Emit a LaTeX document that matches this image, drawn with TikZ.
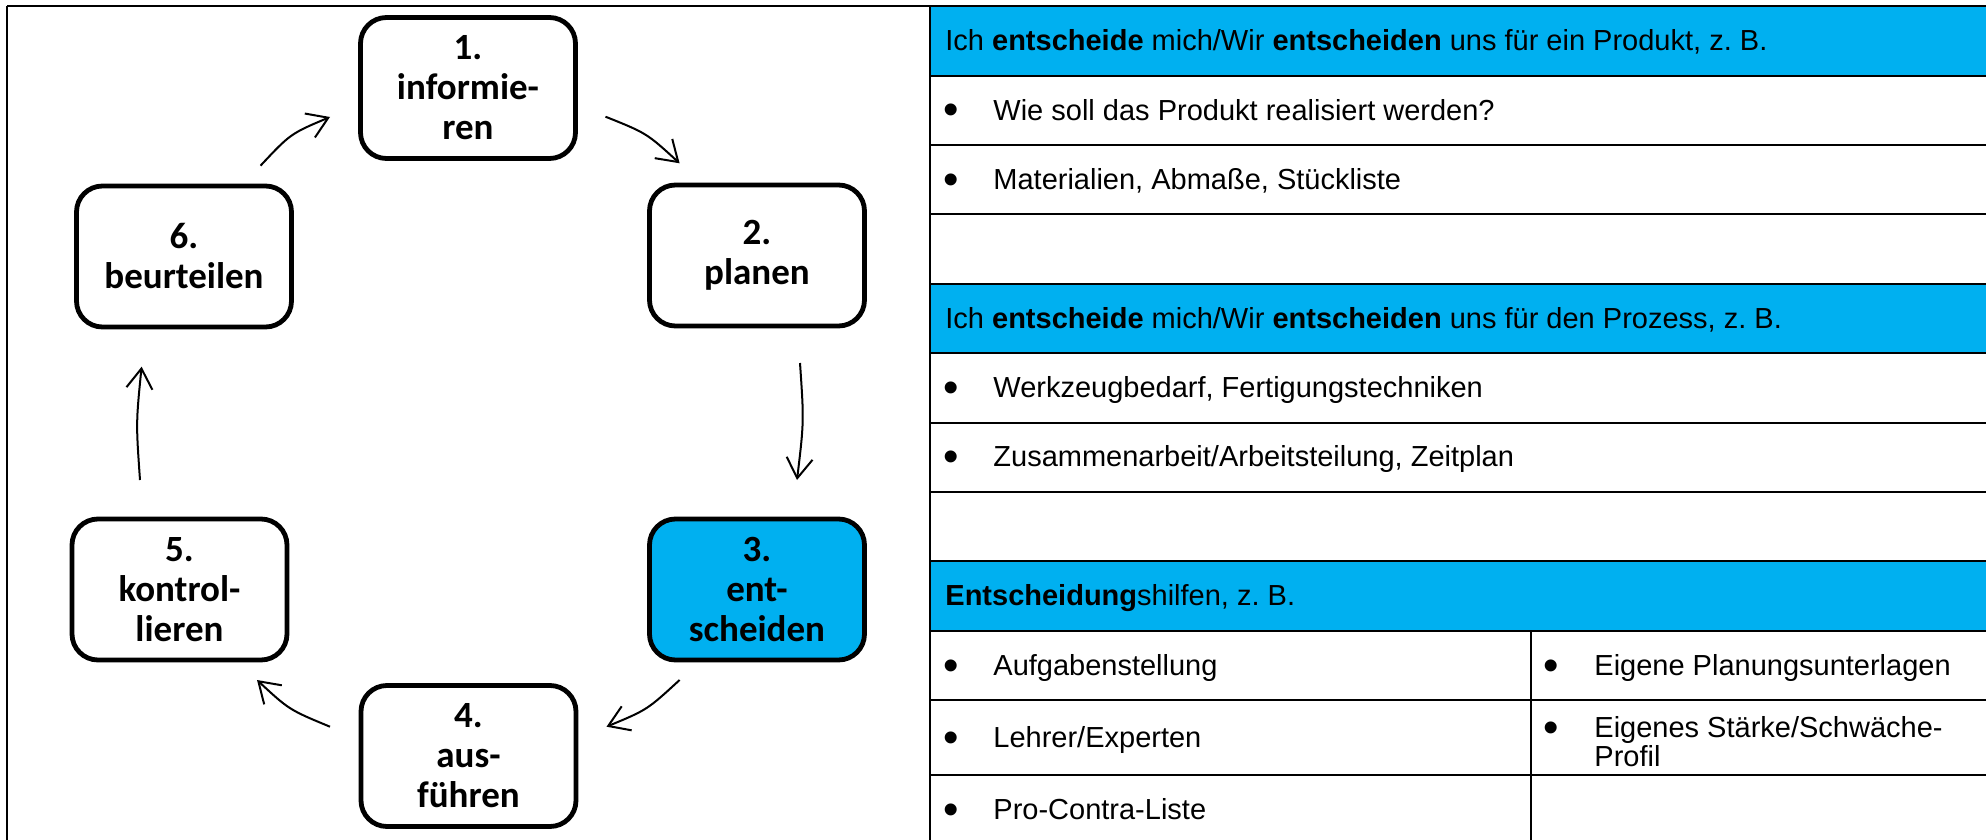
\documentclass[tikz,border=0pt]{standalone}
\usepackage{fontspec}
\setmainfont{Liberation Sans}
\newfontfamily\boxfont{Carlito}
\usetikzlibrary{arrows.meta}
\definecolor{wblue}{HTML}{00B0F0}
\begin{document}
\begin{tikzpicture}[x=0.5pt,y=-0.5pt,
  stepbox/.style={draw, line width=2.4pt, rounded corners=13pt, minimum width=107.5pt, minimum height=70.5pt, align=center, font=\boxfont\bfseries\fontsize{18.5}{20}\selectfont, inner sep=0pt, fill=white},
  cyc/.style={line width=1pt, -{Straight Barb[length=10pt,width=13pt,line width=1pt]}},
  gridline/.style={line width=1.2pt},
  tx/.style={anchor=base west, inner sep=0pt, font=\fontsize{14.5}{14.5}\selectfont},
  bul/.style={anchor=base, inner sep=0pt, yshift=-2.5pt, font=\fontsize{22}{22}\selectfont}
]
\useasboundingbox (0,0) rectangle (1986,840);
% table fills
\fill[wblue] (930,6) rectangle (1986,76);
\fill[wblue] (930,284) rectangle (1986,353);
\fill[wblue] (930,561) rectangle (1986,631);
% table lines
\draw[gridline] (7,6) -- (1986,6);
\draw[gridline] (7,6) -- (7,840);
\draw[gridline] (930,6) -- (930,840);
\foreach \yy in {76,145,214,284,353,423,492,561,631,700,775}
  \draw[gridline] (930,\yy) -- (1986,\yy);
\draw[gridline] (1531,631) -- (1531,840);

% cycle boxes
\node[stepbox] (b1) at (468,88) {1.\\informie-\\ren};
\node[stepbox] (b2) at (757,255.5) {2.\\planen};
\node[stepbox, fill=wblue] (b3) at (757,589.5) {3.\\ent-\\scheiden};
\node[stepbox] (b4) at (468.5,756) {4.\\aus-\\führen};
\node[stepbox] (b5) at (179.5,589.5) {5.\\kontrol-\\lieren};
\node[stepbox] (b6) at (184,256.5) {6.\\beurteilen};

% arrows
\coordinate (a61s) at (260.5,165.7); \coordinate (a61c) at (290.5,133.7); \coordinate (a61e) at (330,117);
\coordinate (a12s) at (605.5,116.7); \coordinate (a12c) at (646.7,133.2); \coordinate (a12e) at (679.6,163.3);
\coordinate (a23s) at (800,363); \coordinate (a23c) at (804,421.5); \coordinate (a23e) at (797,480);
\coordinate (a34s) at (679.6,680); \coordinate (a34c) at (647.2,709.8); \coordinate (a34e) at (606.5,726.7);
\coordinate (a45s) at (330,726.7); \coordinate (a45c) at (289.2,709.8); \coordinate (a45e) at (257,680);
\coordinate (a56s) at (140,480); \coordinate (a56c) at (136,423); \coordinate (a56e) at (141.6,366.7);
\draw[cyc] (a61s) .. controls (a61c) .. (a61e);
\draw[cyc] (a12s) .. controls (a12c) .. (a12e);
\draw[cyc] (a23s) .. controls (a23c) .. (a23e);
\draw[cyc] (a34s) .. controls (a34c) .. (a34e);
\draw[cyc] (a45s) .. controls (a45c) .. (a45e);
\draw[cyc] (a56s) .. controls (a56c) .. (a56e);

% table texts
\node[tx] (h1) at (945,50.5) {Ich \textbf{entscheide} mich/Wir \textbf{entscheiden} uns für ein Produkt, z.~B.};
\node[bul] (p1b) at (951,120) {•};
\node[tx] (p1) at (993,120) {Wie soll das Produkt realisiert werden?};
\node[bul] (p2b) at (951,189) {•};
\node[tx] (p2) at (993,189) {Materialien, Abmaße, Stückliste};
\node[tx] (h2) at (945,328) {Ich \textbf{entscheide} mich/Wir \textbf{entscheiden} uns für den Prozess, z.~B.};
\node[bul] (q1b) at (951,397.5) {•};
\node[tx] (q1) at (993,397.5) {Werkzeugbedarf, Fertigungstechniken};
\node[bul] (q2b) at (951,466.5) {•};
\node[tx] (q2) at (993,466.5) {Zusammenarbeit/Arbeitsteilung, Zeitplan};
\node[tx] (h3) at (945,605.5) {\textbf{Entscheidung}shilfen, z.~B.};
\node[bul] (r1b) at (951,675) {•};
\node[tx] (r1) at (993,675) {Aufgabenstellung};
\node[bul] (r2b) at (951,747.5) {•};
\node[tx] (r2) at (993,747.5) {Lehrer/Experten};
\node[bul] (r3b) at (951,819.5) {•};
\node[tx] (r3) at (993,819.5) {Pro-Contra-Liste};
\node[bul] (s1b) at (1551,675) {•};
\node[tx] (s1) at (1594,675) {Eigene Planungsunterlagen};
\node[bul] (s2b) at (1551,737) {•};
\node[tx] (s2) at (1594,737) {Eigenes Stärke/Schwäche-};
\node[tx] (s3) at (1594,766) {Profil};
\end{tikzpicture}
\end{document}
